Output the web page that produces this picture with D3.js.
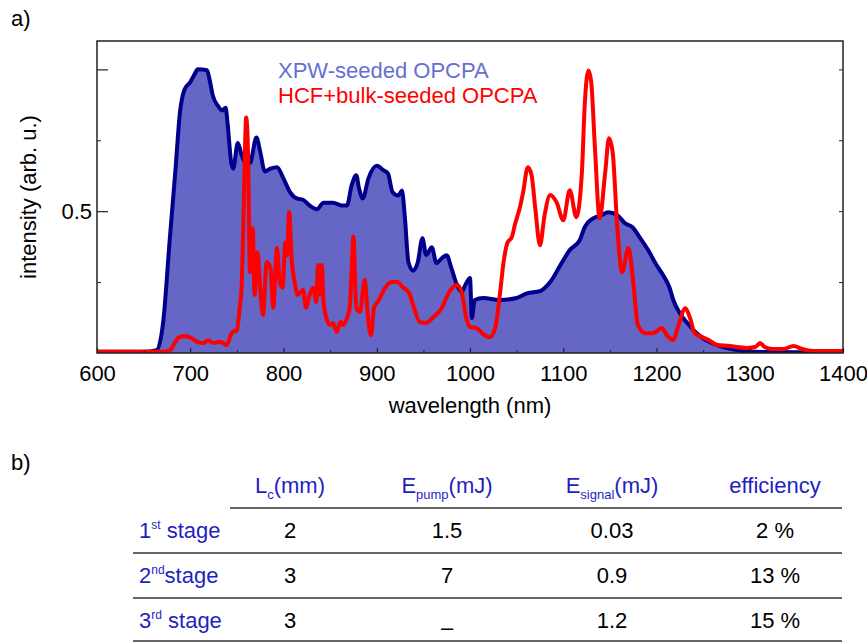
<!DOCTYPE html>
<html>
<head>
<meta charset="utf-8">
<script src="https://cdn.jsdelivr.net/npm/d3@7"></script>
<style>
  html, body { margin: 0; padding: 0; background: #fff; }
  svg { display: block; font-family: "Liberation Sans", Arial, Helvetica, sans-serif; }
</style>
</head>
<body>
<svg id="chart" width="867" height="643"></svg>
<script>
// ---------- data ----------
const xpwWavelength = [600, 650, 664, 671, 678, 684, 689, 694, 700, 705, 708, 718, 721, 724, 730, 734, 738, 740, 744, 746, 751, 755, 759, 764, 771, 775, 780, 786, 793, 800, 807, 814, 821, 828, 836, 843, 853, 863, 868, 873, 878, 881, 885, 891, 900, 907, 912, 917, 923, 927, 930, 934, 939, 944, 949, 953, 959, 964, 970, 975, 980, 986, 991, 995, 1000, 1002, 1005, 1014, 1032, 1050, 1061, 1075, 1086, 1097, 1107, 1118, 1123, 1132, 1141, 1148, 1158, 1166, 1174, 1182, 1191, 1200, 1207, 1214, 1218, 1225, 1233, 1240, 1250, 1265, 1282, 1304, 1350, 1400];
const xpwIntensity = [0.004, 0.004, 0.01, 0.11, 0.40, 0.64, 0.85, 0.93, 0.955, 0.985, 1.0, 0.997, 0.96, 0.91, 0.87, 0.855, 0.865, 0.81, 0.67, 0.65, 0.74, 0.70, 0.67, 0.67, 0.76, 0.71, 0.64, 0.65, 0.655, 0.615, 0.567, 0.545, 0.54, 0.52, 0.507, 0.53, 0.53, 0.52, 0.52, 0.59, 0.627, 0.58, 0.545, 0.615, 0.66, 0.645, 0.633, 0.567, 0.555, 0.573, 0.485, 0.32, 0.29, 0.32, 0.405, 0.345, 0.373, 0.317, 0.335, 0.345, 0.30, 0.24, 0.215, 0.24, 0.264, 0.123, 0.187, 0.194, 0.187, 0.194, 0.21, 0.218, 0.25, 0.31, 0.363, 0.40, 0.444, 0.475, 0.486, 0.496, 0.486, 0.458, 0.444, 0.408, 0.363, 0.31, 0.275, 0.23, 0.187, 0.14, 0.106, 0.08, 0.052, 0.028, 0.013, 0.004, 0.003, 0.003];

const hcfWavelength = [600, 670, 678, 682, 687, 694, 701, 707, 714, 719, 725, 732, 739, 745, 750, 753, 755, 757, 759, 760, 762, 764, 767, 769, 772, 775, 778, 782, 786, 789, 793, 796, 799, 802, 804, 806, 809, 812, 815, 821, 824, 828, 832, 835, 837, 839, 841, 843, 846, 850, 853, 857, 861, 864, 868, 871, 873, 875, 878, 882, 887, 891, 894, 897, 901, 909, 916, 922, 928, 935, 939, 946, 953, 961, 970, 976, 986, 991, 996, 1000, 1007, 1014, 1021, 1027, 1032, 1036, 1040, 1045, 1048, 1054, 1057, 1062, 1066, 1070, 1075, 1080, 1086, 1093, 1100, 1107, 1114, 1120, 1123, 1127, 1130, 1134, 1139, 1145, 1149, 1153, 1158, 1163, 1170, 1175, 1180, 1188, 1196, 1206, 1211, 1218, 1223, 1231, 1236, 1241, 1249, 1256, 1265, 1279, 1286, 1297, 1306, 1311, 1316, 1324, 1336, 1347, 1356, 1368, 1400];
const hcfIntensity = [0.004, 0.004, 0.008, 0.028, 0.053, 0.06, 0.053, 0.04, 0.035, 0.045, 0.035, 0.04, 0.028, 0.074, 0.08, 0.16, 0.23, 0.46, 0.76, 0.83, 0.70, 0.285, 0.44, 0.205, 0.355, 0.23, 0.134, 0.32, 0.30, 0.16, 0.37, 0.25, 0.23, 0.39, 0.345, 0.497, 0.32, 0.25, 0.205, 0.222, 0.16, 0.205, 0.23, 0.18, 0.31, 0.205, 0.31, 0.18, 0.123, 0.099, 0.106, 0.074, 0.11, 0.099, 0.123, 0.16, 0.285, 0.41, 0.16, 0.145, 0.257, 0.11, 0.063, 0.16, 0.18, 0.23, 0.25, 0.25, 0.232, 0.21, 0.169, 0.11, 0.106, 0.127, 0.16, 0.205, 0.24, 0.215, 0.123, 0.092, 0.088, 0.067, 0.056, 0.088, 0.205, 0.32, 0.387, 0.41, 0.45, 0.52, 0.567, 0.655, 0.627, 0.51, 0.38, 0.486, 0.557, 0.53, 0.468, 0.574, 0.479, 0.637, 0.873, 0.996, 0.955, 0.722, 0.475, 0.637, 0.757, 0.708, 0.44, 0.285, 0.37, 0.25, 0.099, 0.07, 0.07, 0.088, 0.063, 0.046, 0.092, 0.158, 0.123, 0.07, 0.056, 0.046, 0.028, 0.025, 0.021, 0.018, 0.021, 0.035, 0.021, 0.014, 0.014, 0.025, 0.014, 0.007, 0.007];

const seriesNames = ["XPW-seeded OPCPA", "HCF+bulk-seeded OPCPA"];
const xTickValues = [600, 700, 800, 900, 1000, 1100, 1200, 1300, 1400];
const xMinorTicks = [650, 750, 850, 950, 1050, 1150, 1250, 1350];
const yMajorTicks = [0.5, 1.0];
const yMajorLabels = ["0.5", ""];
const yMinorTicks = [0.25, 0.75];
const xTitle = "wavelength (nm)";
const yTitle = "intensity (arb. u.)";

// table data
const tableStages = [["1", "st", " stage"], ["2", "nd", "stage"], ["3", "rd", " stage"]];
const tableHeaders = [["L", "c", "(mm)"], ["E", "pump", "(mJ)"], ["E", "signal", "(mJ)"], ["efficiency", "", ""]];
const crystalLength = ["2", "3", "3"];
const pumpEnergy = ["1.5", "7", "\u2013"];
const signalEnergy = ["0.03", "0.9", "1.2"];
const efficiency = ["2 %", "13 %", "15 %"];

// ---------- chart ----------
const svg = d3.select("#chart");
const plot = { left: 97, right: 843, top: 41, bottom: 353 };
const x = d3.scaleLinear().domain([600, 1400]).range([plot.left, plot.right]);
const y = d3.scaleLinear().domain([0, 1.1]).range([plot.bottom, plot.top]);

const fillColor = "#6666c6";
const lineBlue = "#00008c";
const red = "#ff0000";
const textBlue = "#1f1fbf";

svg.append("text").attr("x", 11).attr("y", 26).attr("font-size", 22).text("a)");
svg.append("text").attr("x", 11).attr("y", 470).attr("font-size", 22).text("b)");

svg.append("defs").append("clipPath").attr("id", "clip")
  .append("rect").attr("x", plot.left).attr("y", plot.top)
  .attr("width", plot.right - plot.left).attr("height", plot.bottom - plot.top);

const xpw = xpwWavelength.map((w, i) => ({ w, v: xpwIntensity[i] }));
const hcf = hcfWavelength.map((w, i) => ({ w, v: hcfIntensity[i] }));

const g = svg.append("g").attr("clip-path", "url(#clip)");
g.append("path").datum(xpw)
  .attr("fill", fillColor)
  .attr("d", d3.area().x(d => x(d.w)).y0(y(0)).y1(d => y(d.v)).curve(d3.curveMonotoneX));
g.append("path").datum(xpw)
  .attr("fill", "none").attr("stroke", lineBlue).attr("stroke-width", 4).attr("stroke-linejoin", "round")
  .attr("d", d3.line().x(d => x(d.w)).y(d => y(d.v)).curve(d3.curveMonotoneX));
g.append("path").datum(hcf)
  .attr("fill", "none").attr("stroke", red).attr("stroke-width", 4).attr("stroke-linejoin", "round")
  .attr("d", d3.line().x(d => x(d.w)).y(d => y(d.v)).curve(d3.curveMonotoneX));

// axes
const axisColor = "#222";
const xAxis = svg.append("g").attr("transform", `translate(0,${plot.bottom})`)
  .call(d3.axisBottom(x).tickValues(xTickValues).tickSize(-5).tickPadding(12).tickFormat(d3.format("d")));
xAxis.select(".domain").remove();
xAxis.selectAll("text").attr("font-size", 22).attr("font-family", "Liberation Sans, Arial, sans-serif").attr("fill", "#000");
xAxis.selectAll("line").attr("stroke", axisColor).attr("stroke-width", 1.2);

const xMinor = svg.append("g").attr("transform", `translate(0,${plot.bottom})`)
  .call(d3.axisBottom(x).tickValues(xMinorTicks).tickSize(-3).tickFormat(""));
xMinor.select(".domain").remove();
xMinor.selectAll("line").attr("stroke", axisColor).attr("stroke-width", 1);

const yAxis = svg.append("g").attr("transform", `translate(${plot.left},0)`)
  .call(d3.axisLeft(y).tickValues(yMajorTicks).tickSize(-11).tickPadding(5).tickFormat((d, i) => yMajorLabels[i]));
yAxis.select(".domain").remove();
yAxis.selectAll("text").attr("font-size", 22).attr("font-family", "Liberation Sans, Arial, sans-serif").attr("fill", "#000");
yAxis.selectAll("line").attr("stroke", axisColor).attr("stroke-width", 1.2);

const yMinor = svg.append("g").attr("transform", `translate(${plot.left},0)`)
  .call(d3.axisLeft(y).tickValues(yMinorTicks).tickSize(-4).tickFormat(""));
yMinor.select(".domain").remove();
yMinor.selectAll("line").attr("stroke", axisColor);

const yRight = svg.append("g").attr("transform", `translate(${plot.right},0)`)
  .call(d3.axisRight(y).tickValues(yMinorTicks.concat(yMajorTicks)).tickSize(-4).tickFormat(""));
yRight.select(".domain").remove();
yRight.selectAll("line").attr("stroke", axisColor);

svg.append("rect").attr("x", plot.left).attr("y", plot.top)
  .attr("width", plot.right - plot.left).attr("height", plot.bottom - plot.top)
  .attr("fill", "none").attr("stroke", axisColor).attr("stroke-width", 1.5);

svg.append("text").attr("x", (plot.left + plot.right) / 2).attr("y", 413)
  .attr("text-anchor", "middle").attr("font-size", 22).text(xTitle);
svg.append("text").attr("transform", `translate(36,${(plot.top + plot.bottom) / 2}) rotate(-90)`)
  .attr("text-anchor", "middle").attr("font-size", 22).text(yTitle);

// legend
const legendColors = ["#6670d2", red];
seriesNames.forEach((name, i) => {
  svg.append("text").attr("x", 278).attr("y", 78 + i * 25)
    .attr("font-size", 22).attr("fill", legendColors[i]).text(name);
});

// ---------- table ----------
const colCenters = [290, 447, 612, 775];
const headerY = 493, rowY = [538, 583, 628];
const tbl = svg.append("g").attr("font-size", 22);

tableHeaders.forEach((h, i) => {
  const t = tbl.append("text").attr("x", colCenters[i]).attr("y", headerY)
    .attr("text-anchor", "middle").attr("fill", textBlue);
  t.append("tspan").text(h[0]);
  if (h[1]) {
    t.append("tspan").attr("font-size", 13).attr("dy", 6).text(h[1]);
    t.append("tspan").attr("dy", -6).text(h[2]);
  }
});

tableStages.forEach((s, i) => {
  const t = tbl.append("text").attr("x", 139).attr("y", rowY[i]).attr("fill", textBlue);
  t.append("tspan").text(s[0]);
  t.append("tspan").attr("font-size", 12).attr("dy", -9).text(s[1]);
  t.append("tspan").attr("dy", 9).text(s[2]);
});

const cols = [crystalLength, pumpEnergy, signalEnergy, efficiency];
cols.forEach((col, c) => {
  col.forEach((val, r) => {
    tbl.append("text").attr("x", colCenters[c]).attr("y", rowY[r] + (val === "\u2013" ? 7 : 0))
      .attr("text-anchor", "middle").attr("fill", "#000").text(val);
  });
});

const lines = [[230, 508], [133, 553], [133, 598], [133, 641]];
lines.forEach(([x0, yy]) => {
  svg.append("line").attr("x1", x0).attr("x2", 842).attr("y1", yy).attr("y2", yy)
    .attr("stroke", "#333").attr("stroke-width", 1.3);
});
</script>
</body>
</html>
